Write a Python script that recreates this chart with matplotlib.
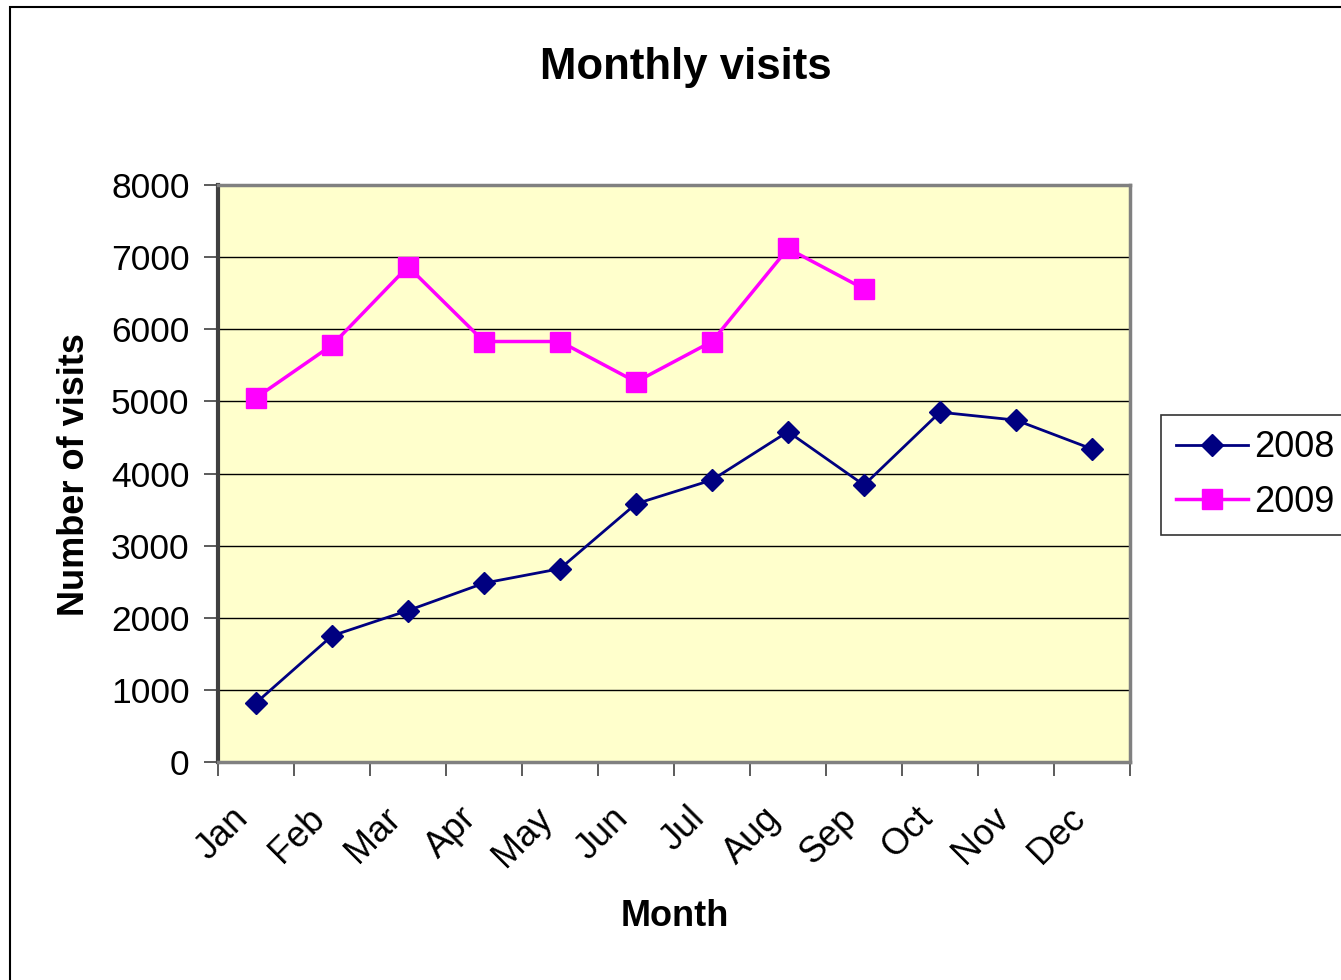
import matplotlib.pyplot as plt
import matplotlib.transforms as mtransforms
import numpy as np
from matplotlib.patches import Rectangle

months = ["Jan", "Feb", "Mar", "Apr", "May", "Jun", "Jul", "Aug", "Sep", "Oct", "Nov", "Dec"]
visits_2008 = [820, 1750, 2100, 2480, 2680, 3580, 3910, 4580, 3840, 4850, 4740, 4340]
visits_2009 = [5050, 5780, 6870, 5830, 5830, 5270, 5830, 7120, 6560]
y_ticks = [0, 1000, 2000, 3000, 4000, 5000, 6000, 7000, 8000]

plt.rcParams['font.family'] = ['Liberation Sans', 'DejaVu Sans']

fig = plt.figure(figsize=(13.41, 9.8), dpi=100)
# chart border (cropped at right and bottom)
fig.patches.append(Rectangle((10 / 1341, -0.1), 1.2, 1 - 7 / 980 + 0.1, transform=fig.transFigure,
                             fill=False, edgecolor='black', linewidth=1.5))

ax = fig.add_axes([218 / 1341, 218 / 980, 912 / 1341, 577 / 980])
ax.set_facecolor('#FFFFCC')

x = np.arange(len(months))
ax.plot(x, visits_2008, color='#000080', marker='D', markersize=11, linewidth=2, label='2008')
ax.plot(x[:len(visits_2009)], visits_2009, color='#FF00FF', marker='s', markersize=14,
        linewidth=2.5, label='2009')

ax.set_xlim(-0.5, 11.5)
ax.set_ylim(0, 8000)
ax.set_yticks(y_ticks)
ax.yaxis.grid(True, color='black', linewidth=1)
ax.set_axisbelow(True)
ax.tick_params(axis='y', labelsize=25.5, length=10, width=1.2, color='#404040', pad=10.5)

ax.set_xticks(np.arange(-0.5, 12, 1))
ax.set_xticklabels([])
ax.tick_params(axis='x', which='major', length=10, width=1.2, color='#404040')
ax.set_xticks(x, minor=True)
ax.set_xticklabels(months, minor=True, rotation=45, ha='right', va='top', rotation_mode='anchor', fontsize=26)
ax.tick_params(axis='x', which='minor', length=0, pad=40)
shift = mtransforms.ScaledTranslation(-25 / 100, 17 / 100, fig.dpi_scale_trans)
for lab in ax.get_xticklabels(minor=True):
    lab.set_transform(lab.get_transform() + shift)

for side in ['top', 'right', 'bottom']:
    ax.spines[side].set_color('#808080')
    ax.spines[side].set_linewidth(2.5)
ax.spines['left'].set_color('#404040')
ax.spines['left'].set_linewidth(3)

fig.text(686 / 1341, 1 - 68 / 980, 'Monthly visits', ha='center', va='center', fontsize=31.5, fontweight='bold')
fig.text(675 / 1341, 1 - 916 / 980, 'Month', ha='center', va='center', fontsize=26, fontweight='bold')
fig.text(75 / 1341, 1 - 475 / 980, 'Number of visits', ha='center', va='center', rotation=90,
         fontsize=26, fontweight='bold')

leg = fig.legend(loc='upper left', bbox_to_anchor=(1161 / 1341, 1 - 415 / 980), fontsize=26,
                 frameon=True, fancybox=False, edgecolor='black', handlelength=2.0, borderpad=0.42,
                 labelspacing=0.55, handletextpad=0.15, borderaxespad=0)
leg.get_frame().set_linewidth(1.2)

fig.savefig('out.png', dpi=100)
